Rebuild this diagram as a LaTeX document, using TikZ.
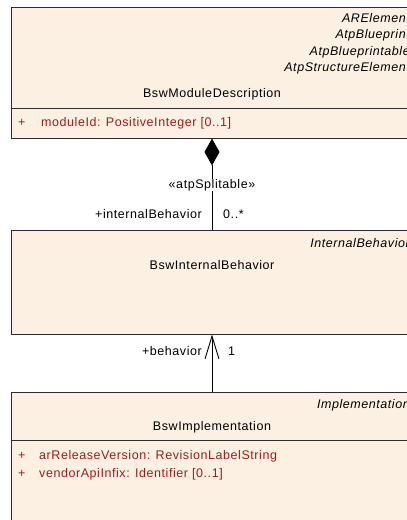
\documentclass[tikz,border=0pt]{standalone}
\usepackage{fontspec}
\setmainfont[LetterSpace=4.5]{Liberation Sans}
\usepackage{xcolor}
\usetikzlibrary{arrows.meta,positioning}
\definecolor{umlfill}{RGB}{251,240,226}
\definecolor{umlred}{RGB}{158,30,30}
\definecolor{umlline}{RGB}{45,45,45}

\begin{document}
\begin{tikzpicture}[x=1pt, y=-1pt,
    umlbox/.style={rectangle, draw=umlline, line width=1pt, fill=umlfill, minimum width=402pt, inner sep=0pt},
    stereo/.style={anchor=base east, inner sep=0pt, font=\fontsize{12.5}{15}\selectfont\itshape},
    cname/.style={anchor=base, inner sep=0pt, font=\fontsize{12.5}{15}\selectfont},
    attr/.style={anchor=base west, inner sep=0pt, text=umlred, font=\fontsize{12.5}{15}\selectfont},
    role/.style={inner sep=0pt, font=\fontsize{12.5}{15}\selectfont}]
    \def\cx{212}
    \def\ex{410}
    \clip (0,0) rectangle (407,520);
    \fill[white] (0,0) rectangle (407,520);

    % BswModuleDescription
    \node(desc) [umlbox, minimum height=131pt] at (\cx,72.5) {};
    \draw[umlline, line width=1pt] (desc.south west) ++(0,-30) -- ++(402,0);
    \node(st1) [stereo] at (\ex,22) {ARElement};
    \node(st2) [stereo] at (\ex,38.5) {AtpBlueprint};
    \node(st3) [stereo] at (\ex,55) {AtpBlueprintable};
    \node(st4) [stereo] at (\ex,71.5) {AtpStructureElement};
    \node(descname) [cname] at (\cx,97.5) {BswModuleDescription};
    \node(descplus) [attr] at (18,126.5) {+};
    \node(descattr) [attr] at (41,126.5) {moduleId: PositiveInteger [0..1]};

    % BswInternalBehavior
    \node(ib) [umlbox, minimum height=104pt] at (\cx,282) {};
    \node(ibst) [stereo] at (\ex,247) {InternalBehavior};
    \node(ibname) [cname] at (\cx,269) {BswInternalBehavior};

    % BswImplementation
    \node(impl) [umlbox, minimum height=170pt] at (\cx,477) {};
    \draw[umlline, line width=1pt] (impl.north west) ++(0,49) -- ++(402,0);
    \node(implst) [stereo] at (\ex,408) {Implementation};
    \node(implname) [cname] at (\cx,430.5) {BswImplementation};
    \node(implplus1) [attr] at (18,459.5) {+};
    \node(implattr1) [attr] at (39,459.5) {arReleaseVersion: RevisionLabelString};
    \node(implplus2) [attr] at (18,477.5) {+};
    \node(implattr2) [attr] at (39,477.5) {vendorApiInfix: Identifier [0..1]};

    % connectors
    \draw[line width=0.9pt, {Diamond[length=27pt, width=15pt]}-] (desc.south) -- (ib.north);
    \node(split) [role, anchor=base, fill=white] at (\cx,188) {«atpSplitable»};
    \node(ibrole) [role, anchor=base east] at (202,218.5) {+internalBehavior};
    \node(ibmult) [role, anchor=base west] at (223,218.5) {0..*};

    \draw[line width=0.9pt, -{Straight Barb[length=23pt, width=14pt]}] (impl.north) -- (ib.south);
    \node(behrole) [role, anchor=base east] at (202,355) {+behavior};
    \node(behmult) [role, anchor=base west] at (228,355) {1};
\end{tikzpicture}
\end{document}
